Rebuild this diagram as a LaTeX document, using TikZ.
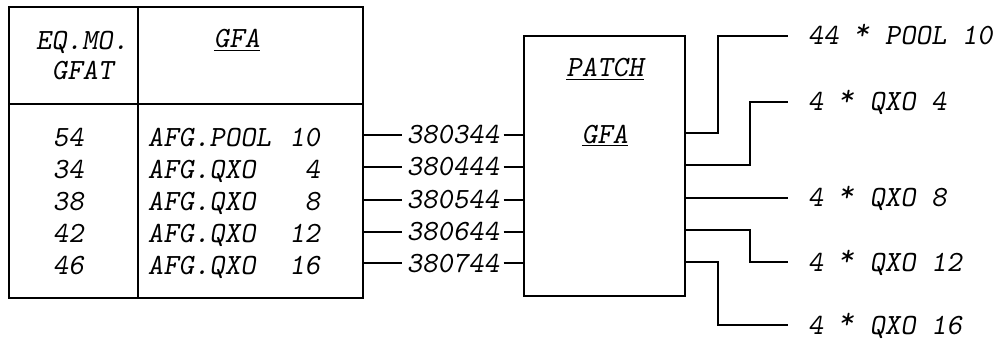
\documentclass[tikz,border=0pt]{standalone}
\usetikzlibrary{positioning}

\newcommand{\upstar}{\raisebox{3pt}{*}}

\begin{document}
\begin{tikzpicture}[
    x=0.02cm, y=-0.02cm,
    line width=1pt,
    txt/.style={font=\fontsize{16.7}{20}\selectfont\ttfamily\slshape, inner sep=0pt, anchor=base west},
    link/.style={font=\fontsize{16.7}{20}\selectfont\ttfamily\slshape, inner xsep=2pt, inner ysep=0pt},
    outlbl/.style={font=\fontsize{16.7}{20}\selectfont\ttfamily\slshape, inner sep=0pt, text height=0.36cm, text depth=0pt, anchor=west},
    blockbox/.style={draw, inner sep=0pt}
]
    \useasboundingbox (0,0) rectangle (1000,341);

    % table on the left
    \node[blockbox, minimum width=7.08cm, minimum height=5.82cm] (tab) at (186,152.5) {};
    \draw (tab.north -| 138,0) -- (tab.south -| 138,0);
    \draw (tab.west |- 0,104) -- (tab.east |- 0,104);

    % table heads
    \node[txt] (hd1) at (35,50) {EQ.MO.};
    \node[txt] (hd2) at (51,80) {GFAT};
    \node[txt, anchor=base] (hd3) at (237,48) {\underline{GFA}};

    % table rows
    \foreach \n/\a/\b/\y [count=\i] in {54/AFG.POOL/10/146, 34/AFG.QXO/4/178, 38/AFG.QXO/8/210, 42/AFG.QXO/12/242, 46/AFG.QXO/16/274}
    {
        \node[txt] (eq\i) at (52,\y) {\n};
        \node[txt] (gf\i) at (147,\y) {\a};
        \node[txt, anchor=base east] (nr\i) at (321,\y) {\b};
    }

    % patch box
    \node[blockbox, minimum width=3.22cm, minimum height=5.2cm] (patch) at (604.5,166) {};
    \node[txt, anchor=base] (pt1) at (605,77) {\underline{PATCH}};
    \node[txt, anchor=base] (pt2) at (605,143) {\underline{GFA}};

    % links between table and patch box
    \foreach \lab/\y [count=\i] in {380344/135, 380444/167, 380544/200, 380644/232, 380744/263}
    {
        \node[link] (lk\i) at (453,\y) {\lab};
        \draw (tab.east |- lk\i) -- (lk\i) -- (patch.west |- lk\i);
    }

    % outputs on the right
    \coordinate (e1) at (788,36);
    \coordinate (e2) at (788,102);
    \coordinate (e3) at (788,198);
    \coordinate (e4) at (788,262);
    \coordinate (e5) at (788,325);

    \node[outlbl, right=0.38cm of e1] (o1) {44 \upstar{} POOL 10};
    \node[outlbl, right=0.38cm of e2] (o2) {4 \upstar{} QXO 4};
    \node[outlbl, right=0.38cm of e3] (o3) {4 \upstar{} QXO 8};
    \node[outlbl, right=0.38cm of e4] (o4) {4 \upstar{} QXO 12};
    \node[outlbl, right=0.38cm of e5] (o5) {4 \upstar{} QXO 16};

    \draw (patch.east |- 0,133) -| (718,36) -- (e1);
    \draw (patch.east |- 0,165) -| (750,102) -- (e2);
    \draw (patch.east |- e3) -- (e3);
    \draw (patch.east |- 0,230) -| (750,262) -- (e4);
    \draw (patch.east |- 0,262) -| (718,325) -- (e5);

\end{tikzpicture}
\end{document}
